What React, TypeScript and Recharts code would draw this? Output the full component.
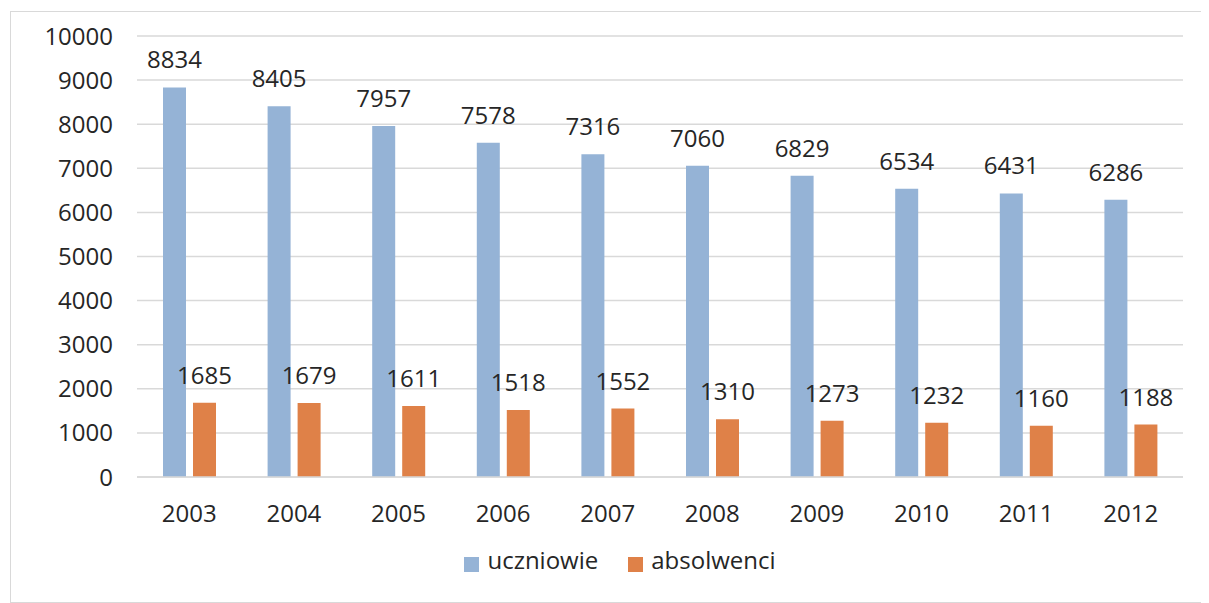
import { BarChart, Bar, XAxis, YAxis, CartesianGrid, Legend, LabelList } from 'recharts'

const years = ['2003', '2004', '2005', '2006', '2007', '2008', '2009', '2010', '2011', '2012']
const uczniowie = [8834, 8405, 7957, 7578, 7316, 7060, 6829, 6534, 6431, 6286]
const absolwenci = [1685, 1679, 1611, 1518, 1552, 1310, 1273, 1232, 1160, 1188]
const yTicks = [0, 1000, 2000, 3000, 4000, 5000, 6000, 7000, 8000, 9000, 10000]
const seriesOrder = ['uczniowie', 'absolwenci']

const data = years.map((year, i) => ({
  year,
  uczniowie: uczniowie[i],
  absolwenci: absolwenci[i],
}))

const FONT = '"Open Sans", "Noto Sans", sans-serif'
const TEXT = '#262626'

export default function App() {
  return (
    <div
      style={{
        width: 1196,
        height: 590,
        marginLeft: 2,
        marginTop: 3,
        border: '1px solid #d9d9d9',
        fontFamily: FONT,
      }}
    >
      <BarChart
        width={1196}
        height={590}
        data={data}
        margin={{ top: 24, right: 24, left: 0, bottom: 26 }}
        barSize={23}
        barGap={7}
      >
        <CartesianGrid vertical={false} stroke="#d9d9d9" strokeWidth={1.5} />
        <XAxis
          dataKey="year"
          axisLine={{ stroke: '#d9d9d9', strokeWidth: 1.5 }}
          tickLine={false}
          tick={{ fontSize: 24, fill: TEXT, fontFamily: FONT }}
          tickMargin={22}
          height={66}
        />
        <YAxis
          domain={[0, 10000]}
          ticks={yTicks}
          interval={0}
          axisLine={false}
          tickLine={false}
          tick={{ fontSize: 24, fill: TEXT, fontFamily: FONT }}
          tickMargin={18}
          width={126}
        />
        <Legend
          verticalAlign="bottom"
          align="center"
          iconType="square"
          iconSize={15}
          wrapperStyle={{ paddingLeft: 28 }}
          itemSorter={(item: { value?: string }) => seriesOrder.indexOf(String(item.value))}
          formatter={(value: string) => (
            <span
              style={{
                color: TEXT,
                fontSize: 24,
                fontFamily: FONT,
                marginLeft: 4,
                marginRight: value === 'uczniowie' ? 20 : 0,
              }}
            >
              {value}
            </span>
          )}
        />
        <Bar dataKey="uczniowie" name="uczniowie" fill="#95b3d6" isAnimationActive={false}>
          <LabelList dataKey="uczniowie" position="top" offset={19} fill={TEXT} fontSize={24} fontFamily={FONT} />
        </Bar>
        <Bar dataKey="absolwenci" name="absolwenci" fill="#df8148" isAnimationActive={false}>
          <LabelList dataKey="absolwenci" position="top" offset={19} fill={TEXT} fontSize={24} fontFamily={FONT} />
        </Bar>
      </BarChart>
    </div>
  )
}
